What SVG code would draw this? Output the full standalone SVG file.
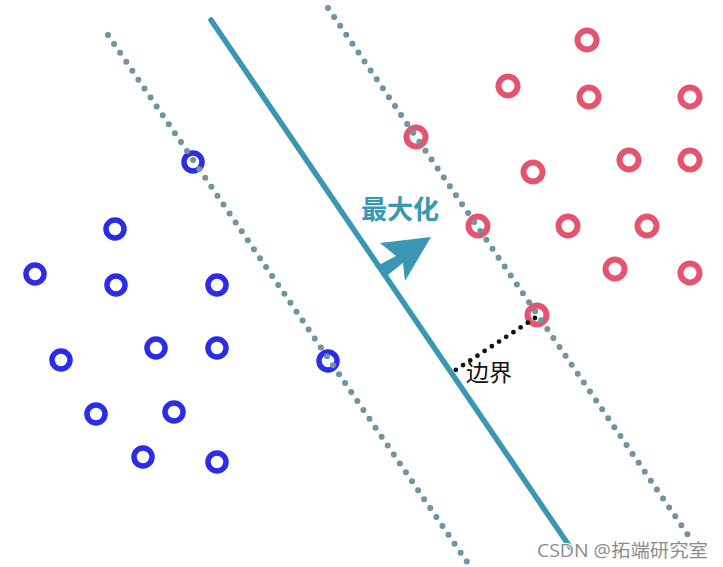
<svg xmlns="http://www.w3.org/2000/svg" width="723" height="567" viewBox="0 0 723 567">
<style>
.blue{fill:none;stroke:#2b2bea;stroke-width:5.5}
.red{fill:none;stroke:#e5536e;stroke-width:6}
.doth{stroke:#4f9cb3;stroke-width:6;stroke-linecap:round;stroke-dasharray:0 10.8;fill:none}
.dot{stroke:#8a8c8e;stroke-width:4.4;stroke-linecap:round;stroke-dasharray:0 10.8;fill:none}
.bdot{stroke:#111;stroke-width:4.8;stroke-linecap:round;stroke-dasharray:0 8.6;fill:none}
.solid{stroke:#3a97b3;stroke-width:5.5;stroke-linecap:round;fill:none}
</style>
<rect width="723" height="567" fill="#ffffff"/>
<g id="blue-points">
<circle class="blue" cx="193" cy="162" r="9"/>
<circle class="blue" cx="115" cy="229" r="9"/>
<circle class="blue" cx="35" cy="274" r="9"/>
<circle class="blue" cx="116" cy="285" r="9"/>
<circle class="blue" cx="217" cy="285" r="9"/>
<circle class="blue" cx="156" cy="348" r="9"/>
<circle class="blue" cx="217" cy="348" r="9"/>
<circle class="blue" cx="61" cy="360" r="9"/>
<circle class="blue" cx="328" cy="361" r="9"/>
<circle class="blue" cx="96" cy="414" r="9"/>
<circle class="blue" cx="174" cy="412" r="9"/>
<circle class="blue" cx="143" cy="457" r="9"/>
<circle class="blue" cx="217" cy="462" r="9"/>
</g>
<g id="red-points">
<circle class="red" cx="587" cy="40" r="9.5"/>
<circle class="red" cx="508" cy="86" r="9.5"/>
<circle class="red" cx="589" cy="97" r="9.5"/>
<circle class="red" cx="690" cy="97" r="9.5"/>
<circle class="red" cx="416" cy="137" r="9.5"/>
<circle class="red" cx="629" cy="160" r="9.5"/>
<circle class="red" cx="690" cy="160" r="9.5"/>
<circle class="red" cx="533" cy="172" r="9.5"/>
<circle class="red" cx="478" cy="226" r="9.5"/>
<circle class="red" cx="568" cy="226" r="9.5"/>
<circle class="red" cx="647" cy="226" r="9.5"/>
<circle class="red" cx="615" cy="269" r="9.5"/>
<circle class="red" cx="690" cy="273" r="9.5"/>
<circle class="red" cx="537" cy="315" r="9.5"/>
</g>
<g id="connectors">
<line class="doth" x1="108" y1="35" x2="467" y2="562"/>
<line class="dot" x1="108" y1="35" x2="467" y2="562"/>
<line class="doth" x1="328" y1="8" x2="688" y2="535"/>
<line class="dot" x1="328" y1="8" x2="688" y2="535"/>
<line class="solid" x1="211" y1="20" x2="570" y2="547"/>
<polygon points="431,237 380,243 396,256 377,266 384,278 403,263 405,281" fill="#3a97b3"/>
<line class="bdot" x1="535" y1="318" x2="454" y2="371"/>
</g>
<g id="label-maximize">
<text x="400" y="219" text-anchor="middle" font-family="'Noto Sans CJK SC', sans-serif" font-weight="bold" font-size="26" fill="#3a97b3">最大化</text>
</g>
<g id="label-margin">
<text x="489" y="381" text-anchor="middle" font-family="'Noto Sans CJK SC', sans-serif" font-size="23" fill="#111">边界</text>
</g>
<g id="watermark">
<text x="537" y="557" font-family="'Open Sans', 'Noto Sans CJK SC', sans-serif" font-size="18" textLength="171" lengthAdjust="spacingAndGlyphs" fill="#8c8c8c" stroke="#ffffff" stroke-width="2" paint-order="stroke">CSDN @拓端研究室</text>
</g>
</svg>
